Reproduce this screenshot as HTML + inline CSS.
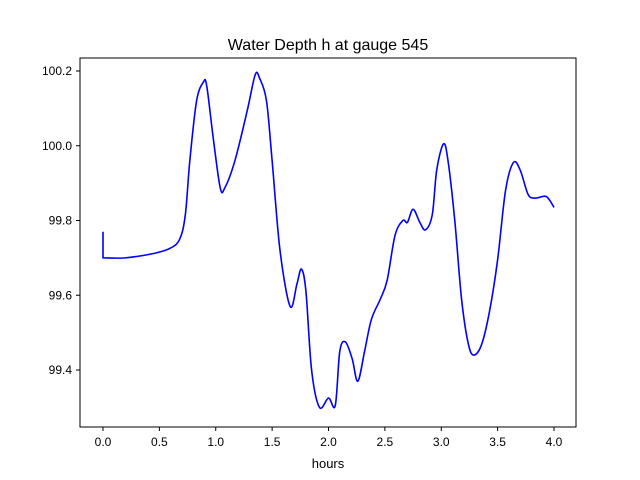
<!DOCTYPE html>
<html><head><meta charset="utf-8"><style>body{margin:0;background:#fff}svg{display:block;font-family:"Liberation Sans","DejaVu Sans",sans-serif}</style></head>
<body>
<svg id="chart" width="640" height="480">
<rect x="0" y="0" width="640" height="480" fill="#fff"/>
<text x="328" y="50" text-anchor="middle" font-size="16">Water Depth h at gauge 545</text>
<g id="axes"></g>
<path id="line" fill="none" stroke="#0000ff" stroke-width="1.6"/>
<rect x="80" y="58" width="496" height="369" fill="none" stroke="#000" stroke-width="1"/>
<text x="328" y="468" text-anchor="middle" font-size="13">hours</text>
</svg>
<script>
const hours=[0,0,0.195,0.42,0.59,0.68,0.73,0.77,0.83,0.89,0.92,0.98,1.04,1.08,1.17,1.28,1.35,1.39,1.45,1.50,1.57,1.66,1.72,1.76,1.80,1.85,1.92,2.00,2.06,2.10,2.15,2.21,2.26,2.32,2.38,2.46,2.52,2.59,2.66,2.70,2.75,2.81,2.86,2.92,2.96,3.02,3.06,3.12,3.18,3.24,3.29,3.36,3.43,3.50,3.57,3.64,3.70,3.77,3.83,3.92,3.96,4.0];
const depth=[99.77,99.70,99.70,99.71,99.725,99.75,99.815,99.96,100.12,100.17,100.16,100.015,99.887,99.887,99.96,100.095,100.19,100.18,100.12,99.96,99.72,99.57,99.63,99.67,99.61,99.40,99.30,99.325,99.305,99.45,99.475,99.43,99.37,99.45,99.535,99.59,99.64,99.76,99.80,99.795,99.83,99.795,99.775,99.815,99.935,100.005,99.96,99.80,99.59,99.47,99.44,99.47,99.56,99.695,99.88,99.955,99.935,99.87,99.86,99.865,99.855,99.835];
const xTicks=[0,0.5,1,1.5,2,2.5,3,3.5,4];
const yTicks=[99.4,99.6,99.8,100.0,100.2];
const X=v=>103+v*112.75;
const Y=v=>71+(100.2-v)*373.75;
const ns="http://www.w3.org/2000/svg";
const g=document.getElementById('axes');
function mk(t,a){const e=document.createElementNS(ns,t);for(const k in a)e.setAttribute(k,a[k]);return e;}
xTicks.forEach(t=>{
  const l=mk('line',{x1:X(t),x2:X(t),y1:427,y2:431,stroke:'#000'});
  
  
  g.appendChild(l);
  const s=mk('text',{x:X(t),y:446,'text-anchor':'middle','font-size':'12'});
  s.textContent=t.toFixed(1);
  
  
  g.appendChild(s);
});
yTicks.forEach(t=>{
  const l=mk('line',{x1:76,x2:80,y1:Y(t),y2:Y(t),stroke:'#000'});
  
  
  g.appendChild(l);
  const s=mk('text',{x:72,y:Y(t)+4,'text-anchor':'end','font-size':'12'});
  s.textContent=t.toFixed(1);
  
  
  g.appendChild(s);
});
const P=hours.map((h,i)=>[X(h),Y(depth[i])]);
let d=`M${P[0][0]},${P[0][1]} L${P[1][0]},${P[1][1]}`;
for(let i=1;i<P.length-1;i++){
  const p0=P[Math.max(1,i-1)],p1=P[i],p2=P[i+1],p3=P[Math.min(P.length-1,i+2)];
  const c1=[p1[0]+(p2[0]-p0[0])/6,p1[1]+(p2[1]-p0[1])/6];
  const c2=[p2[0]-(p3[0]-p1[0])/6,p2[1]-(p3[1]-p1[1])/6];
  d+=` C${c1[0]},${c1[1]} ${c2[0]},${c2[1]} ${p2[0]},${p2[1]}`;
}
document.getElementById('line').setAttribute('d',d);
</script>
</body></html>
